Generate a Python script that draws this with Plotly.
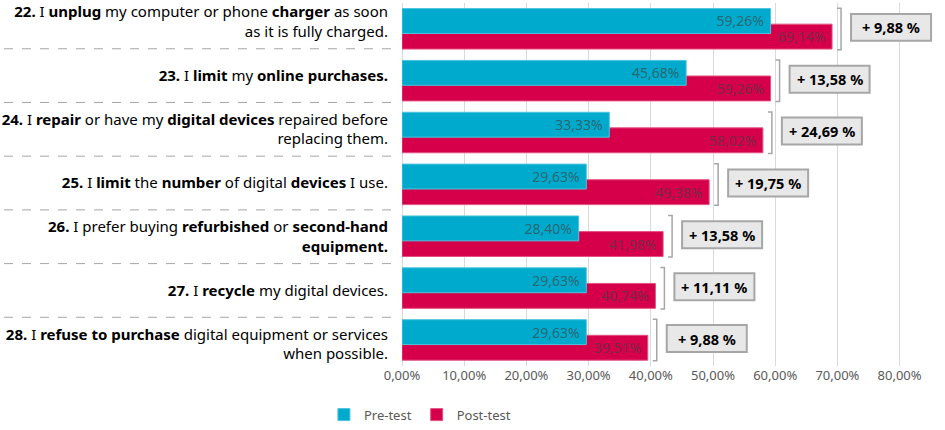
import plotly.graph_objects as go

# ---------------- data ----------------
questions = [
    "<b>22.</b> I <b>unplug</b> my computer or phone <b>charger</b> as soon<br>as it is fully charged.",
    "<b>23.</b> I <b>limit</b> my <b>online purchases.</b>",
    "<b>24.</b> I <b>repair</b> or have my <b>digital devices</b> repaired before<br>replacing them.",
    "<b>25.</b> I <b>limit</b> the <b>number</b> of digital <b>devices</b> I use.",
    "<b>26.</b> I prefer buying <b>refurbished</b> or <b>second-hand<br>equipment.</b>",
    "<b>27.</b> I <b>recycle</b> my digital devices.",
    "<b>28.</b> I <b>refuse to purchase</b> digital equipment or services<br>when possible.",
]
pre_test = [59.26, 45.68, 33.33, 29.63, 28.40, 29.63, 29.63]
post_test = [69.14, 59.26, 58.02, 49.38, 41.98, 40.74, 39.51]
x_ticks = [0, 10, 20, 30, 40, 50, 60, 70, 80]
x_tick_labels = ["0,00%", "10,00%", "20,00%", "30,00%", "40,00%",
                 "50,00%", "60,00%", "70,00%", "80,00%"]
series_names = ["Pre-test", "Post-test"]

# ---------------- styles ----------------
CYAN = "#00AACC"
RED = "#D6004A"
FONT = "Noto Sans"
LABEL_COLOR = "rgba(64,64,64,0.65)"
GRAY = "#595959"

idx = list(range(len(questions)))

fig = go.Figure()

# Post-test drawn first so Pre-test overlaps on top
fig.add_trace(go.Bar(
    name=series_names[1], y=idx, x=post_test, orientation="h",
    width=0.48, offset=-0.092,
    marker=dict(color=RED, line=dict(color="#E2527F", width=1)),
    texttemplate="%{x:.2f}%\u00a0", textposition="inside",
    insidetextanchor="end", insidetextfont=dict(color=LABEL_COLOR, size=14, family=FONT),
    constraintext="none", legendrank=2, hoverinfo="x+name",
))
fig.add_trace(go.Bar(
    name=series_names[0], y=idx, x=pre_test, orientation="h",
    width=0.48, offset=-0.393,
    marker=dict(color=CYAN, line=dict(color="#4CC4DD", width=1)),
    texttemplate="%{x:.2f}%\u00a0", textposition="inside",
    insidetextanchor="end", insidetextfont=dict(color=LABEL_COLOR, size=14, family=FONT),
    constraintext="none", legendrank=1, hoverinfo="x+name",
))

# invisible trace to host the question labels on y2
fig.add_trace(go.Scatter(x=[None], y=[None], yaxis="y2", showlegend=False, hoverinfo="skip"))

shapes = []
annotations = []
for i, (a, b) in enumerate(zip(pre_test, post_test)):
    diff = b - a
    # bracket
    shapes.append(dict(
        type="path", xref="x", yref="y", xsizemode="pixel", xanchor=b,
        path=f"M 5,{i-0.40} L 9,{i-0.40} L 9,{i+0.40} L 5,{i+0.40}",
        line=dict(color="#A6A6A6", width=1.5),
    ))
    # box
    shapes.append(dict(
        type="rect", xref="x", yref="y", xsizemode="pixel", xanchor=b,
        x0=19, x1=99, y0=i - 0.29, y1=i + 0.23,
        fillcolor="#E8E8E8", line=dict(color="#A6A6A6", width=2),
    ))
    annotations.append(dict(
        x=b, y=i - 0.03, xref="x", yref="y", xshift=59, showarrow=False,
        text=f"<b>+ {diff:.2f} %</b>".replace(".", ","),
        font=dict(size=14.5, color="black", family=FONT),
        xanchor="center", yanchor="middle",
    ))

# dashed separators next to the question labels
for k in range(len(questions)):
    shapes.append(dict(
        type="line", xref="paper", yref="y2",
        x0=-0.733, x1=-0.02, y0=k + 0.5, y1=k + 0.5,
        line=dict(color="#A6A6A6", width=1, dash="dash"),
    ))

fig.update_layout(
    width=945, height=430,
    margin=dict(l=402, r=0, t=3, b=62),
    paper_bgcolor="white", plot_bgcolor="white",
    barmode="overlay",
    separators=", ",
    font=dict(family=FONT, color=GRAY),
    xaxis=dict(
        range=[0, 87.3], tickmode="array", tickvals=x_ticks, ticktext=x_tick_labels,
        showgrid=True, gridcolor="#D9D9D9", gridwidth=1,
        zeroline=True, zerolinecolor="#D9D9D9", zerolinewidth=1,
        showline=False, ticks="", tickfont=dict(size=13, color=GRAY, family=FONT),
        fixedrange=True,
    ),
    yaxis=dict(
        range=[6.5, -0.5], showticklabels=False, showgrid=False, zeroline=False,
        showline=False, ticks="", fixedrange=True,
    ),
    yaxis2=dict(
        overlaying="y", side="left", range=[6.407, -0.352],
        tickvals=idx, ticktext=questions, showgrid=False, zeroline=False,
        showline=False, ticks="outside", ticklen=10, tickcolor="rgba(0,0,0,0)",
        tickfont=dict(size=15, color="black", family=FONT), fixedrange=True,
    ),
    legend=dict(
        orientation="h", x=0.033, xanchor="center", y=-0.134, yanchor="middle",
        font=dict(size=13, color=GRAY, family=FONT), traceorder="normal",
    ),
    shapes=shapes,
    annotations=annotations,
    showlegend=True,
)

fig.write_html("out.html")
